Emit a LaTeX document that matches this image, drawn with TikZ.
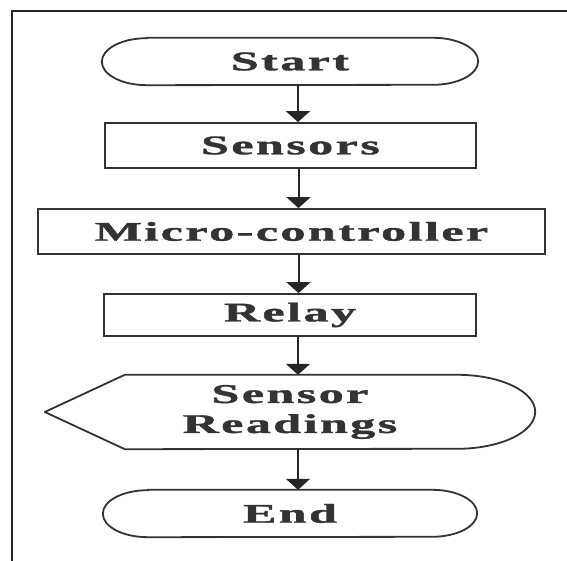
\documentclass[tikz,border=0pt]{standalone}
\usepackage{fontspec}
\usepackage{graphicx}
\newfontfamily\boxfont{Liberation Serif}[LetterSpace=5,FakeBold=1.2]
\newcommand{\wt}[1]{\scalebox{1.85}[1]{#1}}
\usetikzlibrary{arrows.meta,calc}
\begin{document}
\begin{tikzpicture}[x=1pt,y=1pt,
  lbl/.style={font=\boxfont\bfseries\fontsize{27}{30}\selectfont, text=black!80, align=center},
  boxline/.style={draw=black!80, line width=1.8pt},
  procbox/.style={lbl, boxline, rectangle, inner sep=0pt},
  termbox/.style={lbl, rectangle, inner sep=0pt, minimum height=47pt},
  flow/.style={draw=black!85, line width=2pt, -{Triangle[width=24pt,length=11pt]}}
]
\useasboundingbox (0,0) rectangle (567,561);
% frame
\draw[black!85, line width=1.5pt] (567,550) -- (12,550) -- (12,0);

\node[termbox, minimum width=376pt] (start) at (290,499.5) {\wt{Start}};
\node[procbox, minimum width=371pt, minimum height=45pt] (sens) at (290.5,415.5) {\wt{Sensors}};
\node[procbox, minimum width=507pt, minimum height=45pt] (mcu) at (291.5,329.5) {\wt{Micro-controller}};
\node[procbox, minimum width=372pt, minimum height=42pt] (relay) at (290,246) {\wt{Relay}};
\node[lbl, rectangle, inner sep=0pt, minimum width=490pt, minimum height=74pt] (sr) at (290,149) {\wt{Sensor}\\\wt{Readings}};
\node[termbox, minimum width=374pt] (end) at (290,47.5) {\wt{End}};

% terminal outlines with elliptical ends
\foreach \t in {start,end}{
  \draw[boxline]
    ($(\t.north west)+(45,0)$) -- ($(\t.north east)+(-45,0)$)
    arc[start angle=90, end angle=-90, x radius=45pt, y radius=23.5pt]
    -- ($(\t.south west)+(45,0)$)
    arc[start angle=270, end angle=90, x radius=45pt, y radius=23.5pt] -- cycle;
}

% display shape for Sensor Readings
\draw[boxline, line join=round]
  (sr.west) -- ($(sr.north west)+(80,0)$) -- ($(sr.north east)+(-78,0)$)
  arc[start angle=90, end angle=-90, x radius=78pt, y radius=37pt]
  -- ($(sr.south west)+(80,0)$) -- cycle;

\draw[flow] ([xshift=8pt]start.south) -- ([xshift=8pt]start.south |- sens.north);
\draw[flow] ([xshift=8pt]sens.south) -- ([xshift=8pt]sens.south |- mcu.north);
\draw[flow] ([xshift=7pt]mcu.south) -- ([xshift=7pt]mcu.south |- relay.north);
\draw[flow] ([xshift=8pt]relay.south) -- ([xshift=8pt]relay.south |- sr.north);
\draw[flow] ([xshift=8pt]sr.south) -- ([xshift=8pt]sr.south |- end.north);
\end{tikzpicture}
\end{document}
